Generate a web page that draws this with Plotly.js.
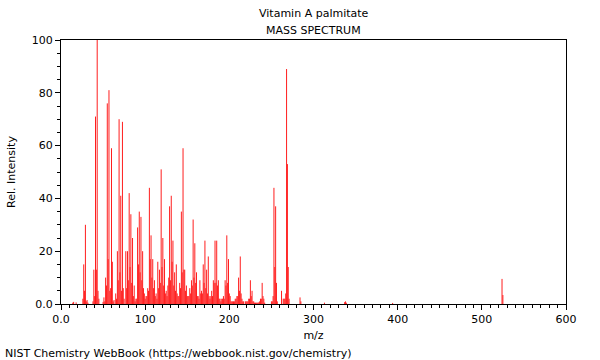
<!DOCTYPE html>
<html>
<head>
<meta charset="utf-8">
<script src="https://cdn.plot.ly/plotly-3.0.1.min.js"></script>
<style>html,body{margin:0;padding:0;background:#fff;}#chart{width:600px;height:360px;}</style>
</head>
<body>
<div id="chart"></div>
<script>
const chartTitle = "Vitamin A palmitate";
const chartSubtitle = "MASS SPECTRUM";
const xLabel = "m/z";
const yLabel = "Rel. Intensity";
const footer = "NIST Chemistry WebBook (https://webbook.nist.gov/chemistry)";

const mz = [
  14,15,18,26,27,28,29,30,31,32,
  38,39,40,41,42,43,44,45,50,51,
  52,53,54,55,56,57,58,59,60,61,
  62,63,65,66,67,68,69,70,71,72,
  73,74,75,77,78,79,80,81,82,83,
  84,85,86,87,88,89,90,91,92,93,
  94,95,96,97,98,99,100,101,102,103,
  104,105,106,107,108,109,110,111,112,113,
  114,115,116,117,118,119,120,121,122,123,
  124,125,126,127,128,129,130,131,132,133,
  134,135,136,137,138,139,140,141,142,143,
  144,145,146,147,148,149,150,151,152,153,
  154,155,156,157,158,159,160,161,162,163,
  164,165,166,167,168,169,170,171,172,173,
  174,175,176,177,178,179,180,181,182,183,
  184,185,186,187,188,189,190,191,192,193,
  194,195,196,197,198,199,200,201,202,203,
  204,205,206,207,208,209,210,211,212,213,
  214,215,216,217,219,220,221,222,223,224,
  225,226,227,228,229,230,231,232,233,234,
  235,236,237,238,239,240,241,242,250,251,
  252,253,254,255,256,257,262,264,265,266,
  267,268,269,270,271,284,285,313,337,338,
  339,394,524,525
];
const intensity = [
  0.5,0.8,0.6,2,15,5,30,1,1.5,0.5,
  1,13,3,71,13,100,5,2,0.8,2.5,
  1,10,7,76,17,81,5,6,59,16,
  1,1.5,4,2,20,9,70,12,41,5,
  69,6,2,20,6,20,9,42,14,34,
  8,25,3,7,1,2,2,29,15,35,
  12,33,9,20,6,4,2,3,3,6,
  5,44,17,26,10,17,6,9,3,4,
  2,16,6,13,8,51,14,25,7,17,
  4,5,3,7,10,37,9,41,16,24,
  7,12,5,15,4,3,3,8,6,35,
  12,59,13,13,5,7,3,3,3,6,
  4,9,7,32,10,23,8,12,3,3,
  2,9,4,5,4,15,8,24,6,13,
  4,18,3,2,3,5,3,9,8,24,
  8,24,7,9,2,2,1,2,2,3,
  2,9,7,26,8,17,4,3,1,1,
  1,1,1,2,2,3,3,10,5,18,
  4,2,1,1,1,1,1,1,2,2,
  9,3,5,1,1,0.5,0.5,0.5,0.5,0.5,
  0.6,1,2,2,8,3,2,0.5,1,1,
  3,44,14,37,8,1,5,2,2,2,
  4,89,53,14,2,2.5,1,0.5,0.7,1,
  0.5,0.4,9.5,3.4
];

const xTickVals = [0,100,200,300,400,500,600];
const xTickText = ["0.0","100","200","300","400","500","600"];
const yTickVals = [0,20,40,60,80,100];
const yTickText = ["0.0","20","40","60","80","100"];

const font = {family: "DejaVu Sans", size: 11, color: "#000"};

// vertical stick for each peak, built from the data arrays
const stickX = [], stickY = [];
for (let i = 0; i < mz.length; i++) {
  stickX.push(mz[i], mz[i], null);
  stickY.push(0, intensity[i], null);
}

const trace = {
  type: "scatter",
  mode: "lines",
  x: stickX,
  y: stickY,
  line: {color: "rgb(255,30,30)", width: 1},
  connectgaps: false,
  hoverinfo: "x+y"
};

const layout = {
  width: 600, height: 360,
  margin: {l: 61, r: 34, t: 40, b: 56},
  paper_bgcolor: "#fff", plot_bgcolor: "#fff",
  font: font,
  showlegend: false,
  xaxis: {
    range: [0, 600], showgrid: false, zeroline: false,
    showline: true, linecolor: "#000", linewidth: 1, mirror: true,
    ticks: "outside", ticklen: 5, tickcolor: "#000",
    tickvals: xTickVals, ticktext: xTickText,
    minor: {dtick: 10, ticks: "outside", ticklen: 3, tickcolor: "#000", showgrid: false},
    title: {text: xLabel, font: font, standoff: 6},
    tickfont: font
  },
  yaxis: {
    range: [0, 100], showgrid: false, zeroline: false,
    showline: true, linecolor: "#000", linewidth: 1, mirror: true,
    ticks: "outside", ticklen: 5, tickcolor: "#000",
    tickvals: yTickVals, ticktext: yTickText,
    minor: {dtick: 5, ticks: "outside", ticklen: 3, tickcolor: "#000", showgrid: false},
    title: {text: yLabel, font: font, standoff: 13},
    tickfont: font
  },
  annotations: [
    {text: chartTitle, xref: "paper", yref: "paper", x: 0.5, y: 1, yshift: 27, xanchor: "center", yanchor: "middle", showarrow: false, font: font},
    {text: chartSubtitle, xref: "paper", yref: "paper", x: 0.5, y: 1, yshift: 10, xanchor: "center", yanchor: "middle", showarrow: false, font: font},
    {text: footer, xref: "paper", yref: "paper", x: 0, y: 0, xshift: -58, yshift: -49, xanchor: "left", yanchor: "middle", showarrow: false, font: font}
  ]
};

Plotly.newPlot("chart", [trace], layout, {staticPlot: true, displayModeBar: false});
</script>
</body>
</html>
